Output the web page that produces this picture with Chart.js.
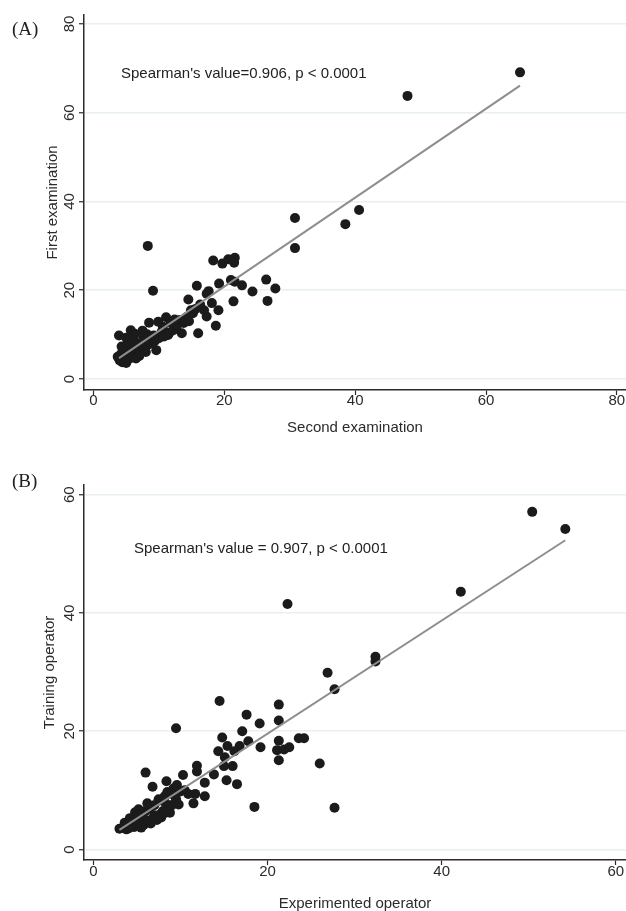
<!DOCTYPE html>
<html>
<head>
<meta charset="utf-8">
<script src="https://cdn.jsdelivr.net/npm/chart.js@4.4.1/dist/chart.umd.min.js"></script>
<style>
  body { margin: 0; width: 626px; height: 911px; overflow: hidden; background: #fff; position: relative; }
  canvas { position: absolute; left: 0; }
  .panel { position: absolute; font-family: "Liberation Serif", "Times New Roman", serif; font-size: 19px; line-height: 22px; color: #222; }
  .note { position: absolute; font-family: "Liberation Sans", Arial, sans-serif; font-size: 15px; line-height: 18px; color: #222; white-space: nowrap; }
</style>
</head>
<body>
<canvas id="chartA" width="626" height="445" style="top:0px"></canvas>
<canvas id="chartB" width="626" height="454" style="top:460px"></canvas>
<div class="panel" style="left:12px; top:18px">(A)</div>
<div class="panel" style="left:12px; top:470px">(B)</div>
<div class="note" style="left:121px; top:64px">Spearman's value=0.906, p &lt; 0.0001</div>
<div class="note" style="left:134px; top:539px">Spearman's value = 0.907, p &lt; 0.0001</div>
<script>
// panel A: second examination (x) vs first examination (y)
const secondExam = [65.2, 48.0, 40.6, 38.5, 30.8, 30.8, 8.3, 9.1, 18.3, 19.7, 20.6, 21.6, 21.5,
  15.8, 17.6, 17.3, 19.2, 21.0, 21.6, 22.7, 24.3, 26.4, 27.8, 26.6, 21.4, 18.1, 19.1, 14.5,
  16.9, 17.3, 18.7, 16.0, 14.9, 14.3, 13.2, 13.5, 12.7, 11.1, 9.9, 8.5, 7.5, 5.7, 3.9, 9.6,
  11.4, 10.4, 6.1, 7.4, 8.6,
  4.0, 4.4, 4.9, 5.3, 4.6, 5.1, 5.8, 6.2, 6.8, 5.5, 4.2, 4.8, 6.0, 7.2, 7.8, 8.3, 9.0, 9.4,
  10.0, 10.8, 11.6, 12.2, 12.8, 13.8, 14.6, 15.2, 15.6, 16.3, 7.0, 8.0, 5.0, 6.5, 3.7, 4.3,
  5.2, 6.6, 7.6, 8.2, 9.2, 10.6, 11.8, 12.4, 6.3, 5.0];
const firstExam = [69.1, 63.8, 38.1, 34.9, 36.3, 29.5, 30.0, 19.9, 26.7, 26.0, 27.0, 27.3, 26.2,
  21.0, 19.8, 19.2, 21.5, 22.3, 21.9, 21.1, 19.7, 22.4, 20.4, 17.6, 17.5, 17.1, 15.5, 17.9,
  15.5, 14.1, 12.0, 10.3, 15.5, 14.0, 13.3, 10.3, 11.8, 13.9, 12.9, 12.7, 10.9, 11.0, 9.8, 6.5,
  9.9, 10.6, 8.8, 8.3, 8.8,
  4.2, 3.8, 4.0, 4.4, 4.9, 5.4, 4.8, 5.6, 5.9, 6.3, 5.6, 6.8, 7.0, 6.6, 7.2, 7.7, 8.0, 8.6,
  9.2, 9.6, 10.4, 11.0, 12.3, 12.6, 13.0, 14.8, 15.8, 16.8, 5.2, 6.1, 3.6, 4.6, 5.0, 7.3,
  8.0, 7.8, 9.4, 10.1, 9.8, 11.8, 12.6, 13.4, 10.2, 9.3];
const fitAx = [3.9, 65.2];
const fitAy = [4.7, 66.1];
const ticksA = [0, 20, 40, 60, 80];

// panel B: experimented operator (x) vs training operator (y)
const experimented = [50.4, 54.2, 42.2, 22.3, 32.4, 32.4, 26.9, 27.7, 14.5, 21.3, 17.6, 19.1,
  21.3, 9.5, 17.1, 14.8, 17.8, 21.3, 23.6, 24.2, 15.4, 16.8, 16.2, 14.35, 19.2, 21.1, 21.9,
  22.5, 15.1, 21.3, 15.0, 16.0, 26.0, 11.9, 13.85, 11.9, 15.3, 16.5, 12.8, 6.0, 8.4, 6.8,
  10.3, 9.6, 18.5, 27.7, 12.8, 11.7, 11.5, 10.9, 9.0, 8.2, 7.5, 9.0,
  3.0, 3.5, 3.8, 4.0, 4.3, 4.7, 5.0, 5.3, 5.7, 6.0, 6.3, 6.8, 7.0, 7.3, 7.7, 8.0, 8.3, 8.7,
  9.0, 4.5, 5.0, 5.5, 6.0, 6.5, 7.0, 5.2, 4.8, 3.6, 4.2, 6.2, 7.5, 8.2, 9.5, 10.0, 10.5, 9.2,
  8.5, 5.8, 6.6, 7.8, 8.8, 9.8, 4.1, 5.5];
const training = [57.1, 54.2, 43.6, 41.5, 32.6, 31.8, 29.9, 27.1, 25.1, 24.5, 22.8, 21.3,
  21.8, 20.5, 20.0, 18.95, 18.3, 18.4, 18.8, 18.8, 17.5, 17.5, 16.6, 16.6, 17.3, 16.8, 16.9,
  17.3, 15.6, 15.1, 14.1, 14.1, 14.55, 14.15, 12.7, 13.2, 11.7, 11.05, 11.3, 13.0, 11.55, 10.6,
  12.6, 10.9, 7.2, 7.05, 9.0, 9.4, 7.8, 9.4, 9.4, 9.0, 8.3, 7.5,
  3.5, 3.8, 3.4, 4.0, 4.2, 3.8, 4.5, 4.0, 4.6, 5.0, 4.6, 5.2, 5.8, 5.0, 6.0, 6.5, 6.2, 7.0,
  7.5, 5.0, 5.5, 6.0, 6.5, 7.0, 7.5, 6.8, 6.3, 4.5, 5.3, 7.8, 8.5, 8.0, 8.5, 9.8, 10.0, 10.3,
  9.7, 4.2, 4.4, 5.4, 6.2, 7.6, 3.6, 3.7];
const fitBx = [3.0, 54.2];
const fitBy = [3.3, 52.3];
const ticksB = [0, 20, 40, 60];

const sans = 'Liberation Sans, Arial, sans-serif';
const ink = '#2b2b2b';
const gridBlue = '#e8f0f2';

function pairs(xs, ys) {
  return xs.map((x, i) => ({ x: x, y: ys[i] }));
}

function drawPanel(id, opt) {
  return new Chart(document.getElementById(id), {
    type: 'scatter',
    data: {
      datasets: [
        { data: pairs(opt.fitX, opt.fitY), showLine: true, borderColor: '#8e8e8e', borderWidth: 2,
          pointRadius: 0, order: 0 },
        { data: pairs(opt.xs, opt.ys), backgroundColor: '#1b1b1b', borderWidth: 0,
          pointRadius: 5, pointHoverRadius: 5, order: 1 }
      ]
    },
    options: {
      responsive: false,
      animation: false,
      devicePixelRatio: 1,
      layout: { autoPadding: false, padding: { top: opt.padTop, left: 0, right: 0, bottom: 0 } },
      plugins: { legend: { display: false }, tooltip: { enabled: false } },
      scales: {
        x: {
          type: 'linear', min: opt.xMin, max: opt.xMax,
          afterBuildTicks: (s) => { s.ticks = opt.ticks.map(v => ({ value: v })); },
          afterFit: (s) => { s.height = opt.xHeight; s.paddingLeft = 0; s.paddingRight = 0; },
          ticks: { color: ink, font: { family: sans, size: 15 }, padding: opt.xTickPad,
            maxRotation: 0, autoSkip: false },
          grid: { drawOnChartArea: false, drawTicks: true, tickLength: 5, tickColor: ink, tickWidth: 1.2 },
          border: { color: ink, width: 1.5 },
          title: { display: true, text: opt.xTitle, color: ink, font: { family: sans, size: 15 },
            padding: { top: 0, bottom: opt.xTitlePad } }
        },
        y: {
          type: 'linear', min: opt.yMin, max: opt.yMax,
          afterBuildTicks: (s) => { s.ticks = opt.ticks.map(v => ({ value: v })); },
          afterFit: (s) => { s.width = 84; s.paddingTop = 0; s.paddingBottom = 0; },
          ticks: { color: ink, font: { family: sans, size: 15 }, padding: 1,
            minRotation: 90, maxRotation: 90, crossAlign: 'center' },
          grid: { color: gridBlue, lineWidth: 1.5, drawTicks: true, tickLength: 5, tickColor: ink, tickWidth: 1.2 },
          border: { color: ink, width: 1.5 },
          title: { display: true, text: opt.yTitle, color: ink, font: { family: sans, size: 15 },
            padding: { top: opt.yTitlePad, bottom: 0 } }
        }
      }
    }
  });
}

drawPanel('chartA', {
  xs: secondExam, ys: firstExam, fitX: fitAx, fitY: fitAy, ticks: ticksA,
  xMin: -1.45, xMax: 81.4, yMin: -2.48, yMax: 82.03,
  padTop: 15, xHeight: 55, xTickPad: -3, xTitlePad: 8, yTitlePad: 44,
  xTitle: 'Second examination', yTitle: 'First examination'
});

drawPanel('chartB', {
  xs: experimented, ys: training, fitX: fitBx, fitY: fitBy, ticks: ticksB,
  xMin: -1.07, xMax: 61.17, yMin: -1.78, yMax: 61.64,
  padTop: 25, xHeight: 54, xTickPad: -2, xTitlePad: 1, yTitlePad: 41,
  xTitle: 'Experimented operator', yTitle: 'Training operator'
});
</script>
</body>
</html>
